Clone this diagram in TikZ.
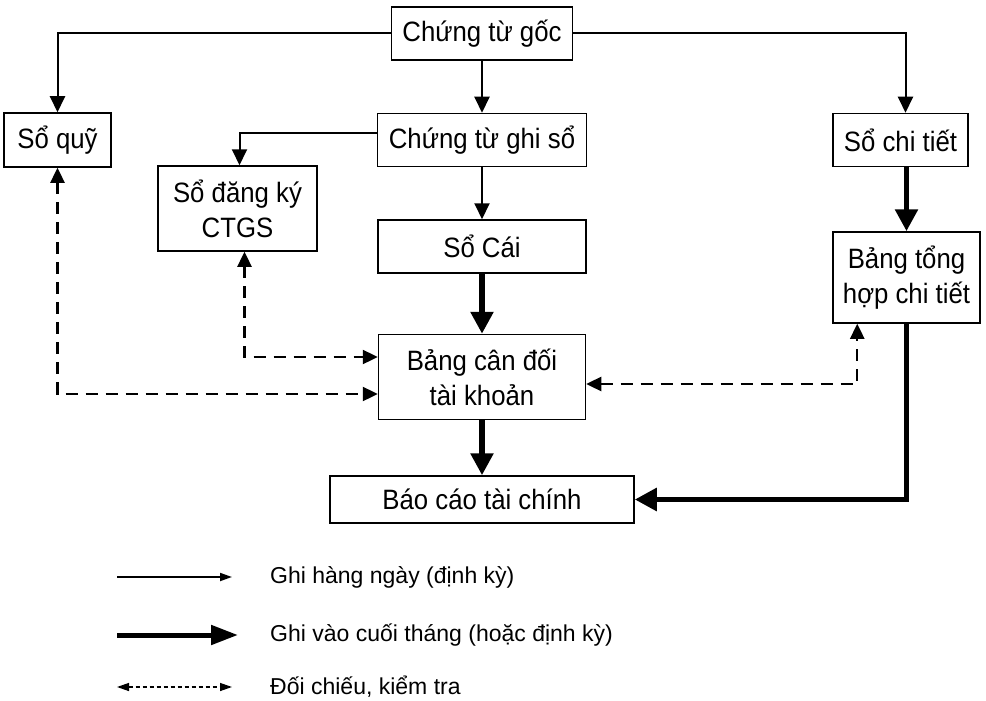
\documentclass[tikz,border=0pt]{standalone}
\usepackage{fontspec}
\setmainfont{Liberation Sans}
\newfontfamily\condfont[FakeStretch=0.92]{Liberation Sans}
\usetikzlibrary{arrows.meta,positioning}

\begin{document}
\begin{tikzpicture}[x=1pt,y=1pt,
  box/.style={draw,line width=1.5pt,align=center,inner sep=0pt,font=\condfont\fontsize{28}{35}\selectfont},
  thinarr/.style={-{Triangle[length=16pt,width=15pt]},line width=2pt},
  thickarr/.style={-{Triangle[length=22pt,width=22pt]},line width=5.5pt},
  dasharr/.style={{Triangle[length=15pt,width=14pt]}-{Triangle[length=15pt,width=14pt]},line width=2.4pt,dash pattern=on 12pt off 8pt},
  leg/.style={anchor=west,inner sep=0pt,font=\fontsize{23}{27}\selectfont}]
\useasboundingbox (0,0) rectangle (986,-701);
% boxes
\node (goc) [box,minimum width=181pt,minimum height=53pt] at (482,-33.5) {Chứng từ gốc};
\node (ghiso) [box,minimum width=209pt,minimum height=53pt,below=52pt of goc] {Chứng từ ghi sổ};
\node (cai) [box,minimum width=208pt,minimum height=53pt,below=52pt of ghiso] {Sổ Cái};
\node (cdtk) [box,minimum width=207pt,minimum height=85pt,below=60pt of cai] {Bảng cân đối\\tài khoản};
\node (baocao) [box,minimum width=304pt,minimum height=47pt,below=55pt of cdtk] {Báo cáo tài chính};
\node (quy) [box,minimum width=107pt,minimum height=54pt,left=265pt of ghiso] {Sổ quỹ};
\node (chitiet) [box,minimum width=135pt,minimum height=53pt,right=245pt of ghiso] {Sổ chi tiết};
\node (tonghop) [box,minimum width=147pt,minimum height=91pt,below=64pt of chitiet,xshift=6pt] {Bảng tổng\\hợp chi tiết};
\node (dangky) [box,minimum width=159pt,minimum height=85pt,below left=-2pt and 59pt of ghiso] {Sổ đăng ký\\CTGS};
% daily
\draw[thinarr] (goc.west) -| (quy.north);
\draw[thinarr] (goc.east) -| ([xshift=5pt]chitiet.north);
\draw[thinarr] (goc) -- (ghiso);
\draw[thinarr] ([yshift=7pt]ghiso.west) -| ([xshift=2pt]dangky.north);
\draw[thinarr] (ghiso) -- (cai);
% end of month
\draw[thickarr] (cai) -- (cdtk);
\draw[thickarr] (cdtk) -- (baocao);
\draw[thickarr] ([xshift=6pt]chitiet.south) -- (tonghop);
\draw[thickarr] (tonghop.south) |- (baocao.east);
% cross checks
\draw[dasharr] (quy.south) |- ([yshift=-17pt]cdtk.west);
\draw[dasharr] ([xshift=7pt]dangky.south) |- ([yshift=20pt]cdtk.west);
\draw[dasharr] ([yshift=-7pt]cdtk.east) -| ([xshift=25pt]tonghop.south west);
% legend
\coordinate (l1a) at (117,-577);
\coordinate (l1b) at (232,-577);
\coordinate (l2a) at (117,-635);
\coordinate (l2b) at (238,-635);
\coordinate (l3a) at (117,-687);
\coordinate (l3b) at (232,-687);
\node (t1) [leg] at (270,-577) {Ghi hàng ngày (định kỳ)};
\node (t2) [leg] at (270,-635) {Ghi vào cuối tháng (hoặc định kỳ)};
\node (t3) [leg] at (270,-687) {Đối chiếu, kiểm tra};
\draw[-{Triangle[length=12pt,width=8pt]},line width=1.8pt] (l1a) -- (l1b);
\draw[-{Triangle[length=27pt,width=19pt]},line width=5pt] (l2a) -- (l2b);
\draw[{Triangle[length=12pt,width=8pt]}-{Triangle[length=12pt,width=8pt]},line width=1.3pt,dash pattern=on 4pt off 3pt] (l3a) -- (l3b);
\end{tikzpicture}
\end{document}
